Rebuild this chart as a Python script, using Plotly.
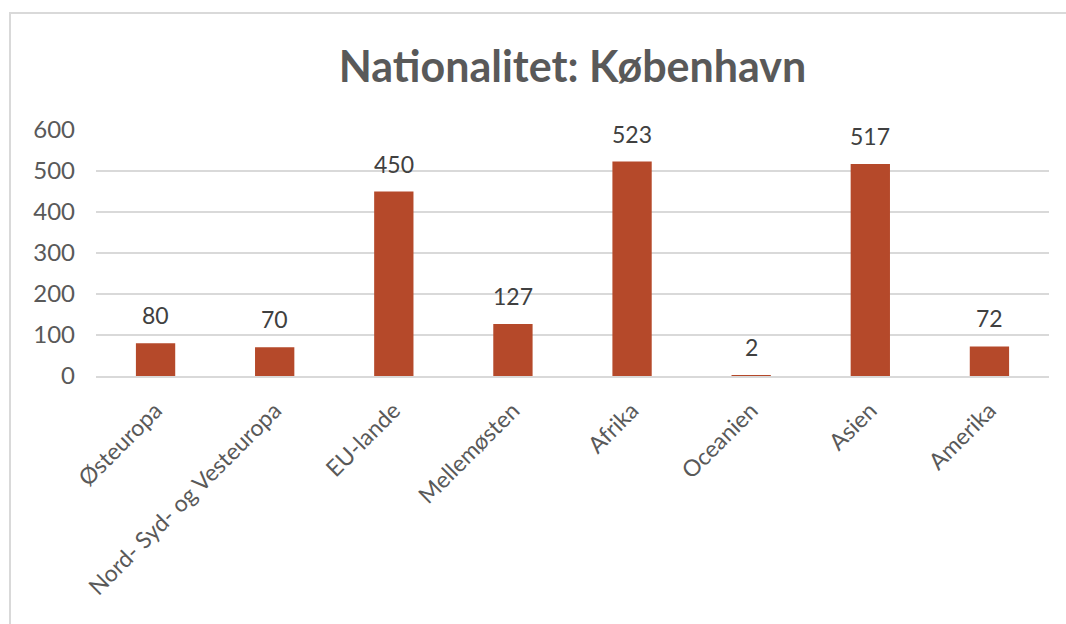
import plotly.graph_objects as go

categories = ["Østeuropa", "Nord- Syd- og Vesteuropa", "EU-lande", "Mellemøsten",
              "Afrika", "Oceanien", "Asien", "Amerika"]
values = [80, 70, 450, 127, 523, 2, 517, 72]
y_ticks = [0, 100, 200, 300, 400, 500, 600]

bar_color = "#B5492A"
text_gray = "#595959"
font_family = "Lato"

fig = go.Figure(go.Bar(
    x=categories,
    y=values,
    marker=dict(color=bar_color, line=dict(width=0)),
    hoverinfo="x+y",
))

# data labels sit a little above the bars, Excel style
for cat, v in zip(categories, values):
    fig.add_annotation(x=cat, y=v, text=str(v), showarrow=False,
                       yanchor="bottom", yshift=12,
                       font=dict(family=font_family, size=23, color="#404040"))

# light chart-area border (left and top only visible in crop)
W, H = 1066, 624
ml, mr, mt, mb = 96, 17, 130, 248
pw, ph = W - ml - mr, H - mt - mb
fig.add_shape(type="rect", xref="paper", yref="paper",
              x0=(10 - ml) / pw, x1=(W + 20 - ml) / pw,
              y0=(H - mb - (H + 20)) / ph, y1=(H - mb - 13) / ph,
              line=dict(color="#D9D9D9", width=2), fillcolor="rgba(0,0,0,0)",
              layer="below")

fig.update_layout(
    width=W, height=H,
    margin=dict(l=ml, r=mr, t=mt, b=mb),
    paper_bgcolor="white", plot_bgcolor="white",
    bargap=0.67,
    showlegend=False,
    title=dict(text="<b>Nationalitet: København</b>", x=0.5, xref="paper",
               y=1 - 67 / H, yanchor="middle",
               font=dict(family=font_family, size=43, color=text_gray)),
    xaxis=dict(tickangle=-45, showgrid=False, showline=True,
               linecolor="#D9D9D9", linewidth=2, ticks="", ticklabelstandoff=10,
               tickfont=dict(family=font_family, size=23, color=text_gray)),
    yaxis=dict(range=[0, 600], tickvals=y_ticks, showgrid=True,
               gridcolor="#D9D9D9", gridwidth=2, zeroline=False, showline=False,
               ticks="", ticklabelstandoff=20,
               tickfont=dict(family=font_family, size=24, color=text_gray)),
)

fig.write_html("out.html", config={"displayModeBar": False},
               post_script="document.body.style.margin='0';")
